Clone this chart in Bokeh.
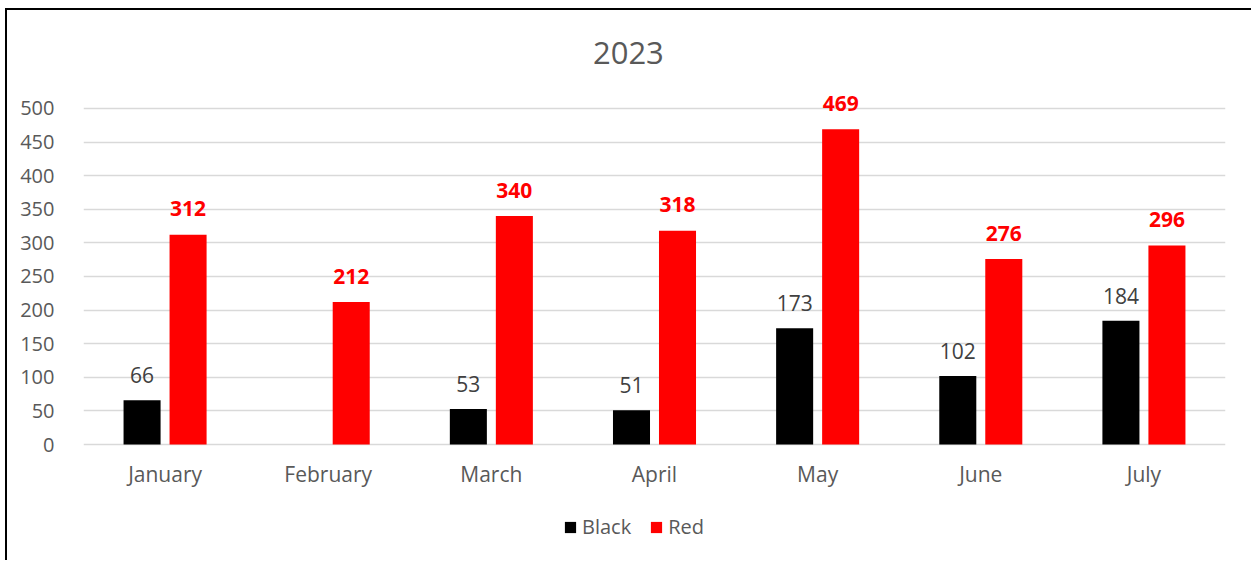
from bokeh.plotting import figure
from bokeh.layouts import column
from bokeh.models import (ColumnDataSource, FactorRange, Range1d, FixedTicker,
                          Legend, LegendItem, Label, CategoricalAxis)
from bokeh.transform import dodge
from bokeh.embed import file_html
from bokeh.resources import INLINE
from bokeh.core.properties import value

# ---- data ----
months = ["January", "February", "March", "April", "May", "June", "July"]
black_values = [66, None, 53, 51, 173, 102, 184]   # February has no Black value
red_values = [312, 212, 340, 318, 469, 276, 296]
y_ticks = [0, 50, 100, 150, 200, 250, 300, 350, 400, 450, 500]
chart_title = "2023"
series_names = ["Black", "Red"]

FONT = "Open Sans"
GREY = "#595959"

black_src = ColumnDataSource(dict(
    month=[m for m, v in zip(months, black_values) if v is not None],
    val=[v for v in black_values if v is not None],
    txt=[str(v) for v in black_values if v is not None],
))
red_src = ColumnDataSource(dict(
    month=months, val=red_values, txt=[str(v) for v in red_values],
))

# frame spans the full canvas height; the value axis keeps 0..500 ticks only
p = figure(
    width=1244, height=550,
    x_range=FactorRange(*months, range_padding=0),
    y_range=Range1d(-172.6, 645.8),
    output_backend="svg", toolbar_location=None,
    min_border_left=76, min_border_right=26,
    min_border_top=0, min_border_bottom=0,
    x_axis_location=None,
)
p.border_fill_color = "white"
p.background_fill_color = "white"
p.outline_line_color = None

# grid
p.xgrid.grid_line_color = None
p.ygrid.grid_line_color = "#D9D9D9"
p.ygrid.grid_line_width = 1.5
p.yaxis.ticker = FixedTicker(ticks=y_ticks)

# category axis placed at value 0 inside the frame
xax = CategoricalAxis(fixed_location=0)
p.add_layout(xax, "below")

for ax in (xax, p.yaxis[0]):
    ax.axis_line_color = None
    ax.major_tick_line_color = None
    ax.minor_tick_line_color = None
    ax.major_label_text_font = FONT
    ax.major_label_text_font_size = "20px"
    ax.major_label_text_color = GREY
xax.major_label_text_font_size = "21px"
p.yaxis.major_label_standoff = 23
xax.major_label_standoff = 9

W = 0.227
OFF = 0.141
rb = p.vbar(x=dodge("month", -OFF, range=p.x_range), top="val", width=W,
            source=black_src, fill_color="#000000", line_color=None)
rr = p.vbar(x=dodge("month", OFF, range=p.x_range), top="val", width=W,
            source=red_src, fill_color="#FF0000", line_color=None)

p.text(x=dodge("month", -OFF, range=p.x_range), y="val", text="txt", source=black_src,
       text_font=value(FONT), text_font_size="21px", text_color="#404040",
       text_align="center", text_baseline="middle", y_offset=-25)
p.text(x=dodge("month", OFF, range=p.x_range), y="val", text="txt", source=red_src,
       text_font=value(FONT), text_font_size="21px", text_font_style="bold",
       text_color="#FF0000", text_align="center", text_baseline="middle", y_offset=-26)

# chart title
p.add_layout(Label(x=3.34, y=583, text=chart_title, text_font=FONT,
                   text_font_size="31px", text_color=GREY,
                   text_align="center", text_baseline="middle"))

legend = Legend(items=[LegendItem(label=series_names[0], renderers=[rb]),
                       LegendItem(label=series_names[1], renderers=[rr])],
                orientation="horizontal", location=(480, 20),
                glyph_width=14, glyph_height=14, label_standoff=5, spacing=18,
                label_text_font=FONT, label_text_font_size="20px",
                label_text_color=GREY, border_line_color=None,
                background_fill_color=None, margin=0, padding=0)
p.add_layout(legend, "center")

root = column(p, styles={"margin-left": "5px", "margin-top": "8px",
                         "border-left": "2px solid #000000",
                         "border-top": "2px solid #000000"})

open("out.html", "w").write(file_html(root, INLINE))
